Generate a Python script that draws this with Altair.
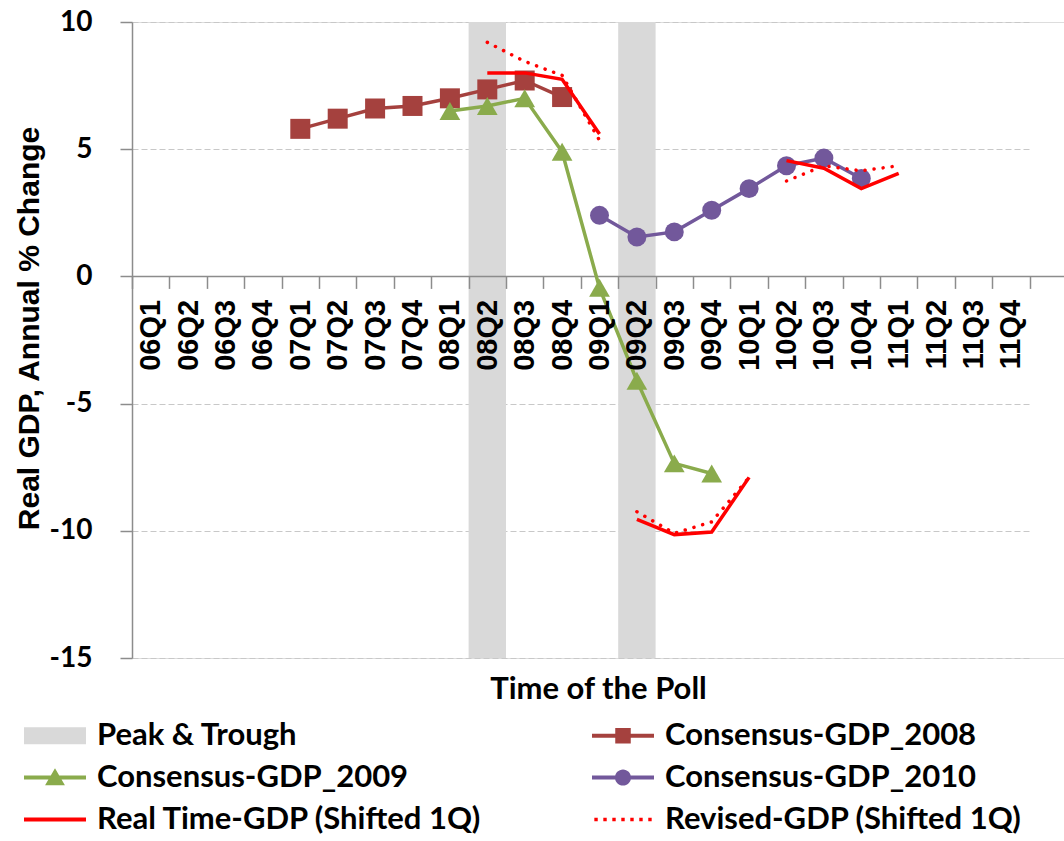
import altair as alt
import pandas as pd

# Quarter categories on the x axis (time of the poll)
quarters = ["06Q1", "06Q2", "06Q3", "06Q4", "07Q1", "07Q2", "07Q3", "07Q4",
            "08Q1", "08Q2", "08Q3", "08Q4", "09Q1", "09Q2", "09Q3", "09Q4",
            "10Q1", "10Q2", "10Q3", "10Q4", "11Q1", "11Q2", "11Q3", "11Q4"]

# Business-cycle peak and trough quarters
peak_trough = ["08Q2", "09Q2"]

# Consensus forecasts of annual real GDP growth, by forecast year
c2008_q = ["07Q1", "07Q2", "07Q3", "07Q4", "08Q1", "08Q2", "08Q3", "08Q4"]
c2008_v = [5.8, 6.2, 6.6, 6.7, 7.0, 7.35, 7.7, 7.05]

c2009_q = ["08Q1", "08Q2", "08Q3", "08Q4", "09Q1", "09Q2", "09Q3", "09Q4"]
c2009_v = [6.5, 6.7, 7.0, 4.9, -0.45, -4.1, -7.35, -7.75]

c2010_q = ["09Q1", "09Q2", "09Q3", "09Q4", "10Q1", "10Q2", "10Q3", "10Q4"]
c2010_v = [2.4, 1.55, 1.75, 2.6, 3.45, 4.35, 4.65, 3.85]

# Real-time and revised GDP (shifted one quarter), one segment per year
rt_2008_q = ["08Q2", "08Q3", "08Q4", "09Q1"]
rt_2008_v = [8.0, 8.0, 7.75, 5.6]
rt_2009_q = ["09Q2", "09Q3", "09Q4", "10Q1"]
rt_2009_v = [-9.55, -10.15, -10.05, -7.9]
rt_2010_q = ["10Q2", "10Q3", "10Q4", "11Q1"]
rt_2010_v = [4.55, 4.25, 3.45, 4.05]

rev_2008_q = ["08Q2", "08Q3", "08Q4", "09Q1"]
rev_2008_v = [9.2, 8.45, 7.9, 5.35]
rev_2009_q = ["09Q2", "09Q3", "09Q4", "10Q1"]
rev_2009_v = [-9.25, -10.1, -9.65, -7.9]
rev_2010_q = ["10Q2", "10Q3", "10Q4", "11Q1"]
rev_2010_v = [3.75, 4.35, 4.15, 4.35]

# Legend entries; the legend fills column by column (3 rows x 2 columns)
series_names = ["Peak & Trough", "Consensus-GDP_2009", "Real Time-GDP (Shifted 1Q)",
                "Consensus-GDP_2008", "Consensus-GDP_2010",
                "Revised-GDP (Shifted 1Q)"]

GREY_BAND = "#d9d9d9"
C2008 = "#a5413e"
C2009 = "#8aab4c"
C2010 = "#72589b"
RED = "#ff0000"
AXIS_GREY = "#8c8c8c"

W, H = 932, 636
BAND_SPAN = 897.6
Y_MIN, Y_MAX = -15, 10
zero_from_bottom = H * (0 - Y_MIN) / (Y_MAX - Y_MIN)


def frame(qs, vs, seg):
    return pd.DataFrame({"quarter": qs, "value": vs, "segment": seg})


x_scale = alt.Scale(type="band", domain=quarters, range=[0, BAND_SPAN],
                    paddingInner=0, paddingOuter=0)
y_scale = alt.Scale(domain=[Y_MIN, Y_MAX], nice=False, zero=False)

x_axis = alt.Axis(
    title="Time of the Poll", offset=-zero_from_bottom, domain=False, grid=False,
    tickBand="extent", tickSize=12, tickColor=AXIS_GREY, tickWidth=1.5,
    labelAngle=270, labelFont="Liberation Sans", labelFontWeight="bold",
    labelFontSize=29, labelColor="black", labelPadding=11, labelOverlap=False,
    titleFont="Lato", titleFontSize=31, titleFontWeight="bold", titleColor="black",
    titleX=W / 2, titleY=zero_from_bottom + 40, titleBaseline="alphabetic",
    titleAlign="center",
)
y_axis = alt.Axis(
    values=[-15, -10, -5, 0, 5, 10], title="Real GDP, Annual % Change",
    labelExpr="'' + datum.value",
    grid=True, gridDash=[6, 3], gridColor="#c8c8c8", gridWidth=1,
    domainColor=AXIS_GREY, domainWidth=1.5, tickColor=AXIS_GREY, tickSize=12,
    tickWidth=1.5, labelFont="Lato", labelFontSize=28, labelFontWeight="bold",
    labelColor="black", labelPadding=28, titleFont="Liberation Sans",
    titleFontSize=30, titleFontWeight="bold", titleColor="black",
    titleX=-88, titleY=306, titleAngle=270, titleAlign="center",
)


def xenc():
    return alt.X("quarter:N", scale=x_scale, axis=x_axis, sort=quarters)


def yenc(field="value"):
    return alt.Y(f"{field}:Q", scale=y_scale, axis=y_axis)


# Shaded peak / trough quarters
bands_df = pd.DataFrame({"quarter": peak_trough, "lo": [Y_MIN] * 2, "hi": [Y_MAX] * 2})
bands = alt.Chart(bands_df).mark_rect(color=GREY_BAND).encode(
    x=xenc(), y=yenc("hi"), y2="lo:Q")

# Zero line spanning the whole plot
zero = alt.Chart(pd.DataFrame({"v": [0]})).mark_rule(
    color=AXIS_GREY, strokeWidth=1.5).encode(
    y=yenc("v"), x=alt.value(0), x2=alt.value("width"))


def consensus(qs, vs, color, shape, size):
    df = frame(qs, vs, "a")
    line = alt.Chart(df).mark_line(color=color, strokeWidth=3.5).encode(
        x=xenc(), y=yenc())
    pts = alt.Chart(df).mark_point(filled=True, color=color, shape=shape,
                                   size=size, opacity=1, strokeWidth=0).encode(
        x=xenc(), y=yenc())
    return line + pts


rt_df = pd.concat([frame(rt_2008_q, rt_2008_v, "2008"),
                   frame(rt_2009_q, rt_2009_v, "2009"),
                   frame(rt_2010_q, rt_2010_v, "2010")])
rev_df = pd.concat([frame(rev_2008_q, rev_2008_v, "2008"),
                    frame(rev_2009_q, rev_2009_v, "2009"),
                    frame(rev_2010_q, rev_2010_v, "2010")])

real_time = alt.Chart(rt_df).mark_line(color=RED, strokeWidth=3.5).encode(
    x=xenc(), y=yenc(), detail="segment:N")
revised = alt.Chart(rev_df).mark_line(
    color=RED, strokeWidth=3.5, strokeDash=[0.1, 9], strokeCap="round").encode(
    x=xenc(), y=yenc(), detail="segment:N")


# Legend swatches as symbol paths; one unit is half the symbol size (15.5 px),
# the swatches run two units either side of centre
def rect(x0, y0, x1, y1):
    return f"M{x0},{y0}H{x1}V{y1}H{x0}Z"


line_bar = rect(-2, -0.13, 2, 0.13)
sq = 0.5
square_path = line_bar + " " + rect(-sq, -sq, sq, sq)
triangle_path = line_bar + " M0,-0.6L0.64,0.5H-0.64Z"
circle_path = line_bar + " M-0.52,0A0.52,0.52 0 1,1 0.52,0A0.52,0.52 0 1,1 -0.52,0Z"
band_path = rect(-2, -0.55, 2, 0.55)
dots = " ".join(rect(round(c - 0.11, 3), -0.11, round(c + 0.11, 3), 0.11)
                for c in [-1.74, -1.16, -0.58, 0.0, 0.58, 1.16, 1.74])
swatch = {
    "Peak & Trough": (band_path, GREY_BAND),
    "Consensus-GDP_2008": (square_path, C2008),
    "Consensus-GDP_2009": (triangle_path, C2009),
    "Consensus-GDP_2010": (circle_path, C2010),
    "Real Time-GDP (Shifted 1Q)": (line_bar, RED),
    "Revised-GDP (Shifted 1Q)": (dots, RED),
}
legend_paths = [swatch[n][0] for n in series_names]
legend_colors = [swatch[n][1] for n in series_names]

legend_spec = alt.Legend(
    title=None, orient="none", legendX=-92.5, legendY=698, columns=2,
    columnPadding=109, rowPadding=10, labelFont="Lato", labelFontSize=31,
    labelFontWeight="bold", labelColor="black", labelLimit=800, labelOffset=26.5,
    symbolSize=961, symbolStrokeWidth=0, symbolOpacity=1,
)
legend_layer = alt.Chart(pd.DataFrame({"series": series_names, "v": [0] * 6})).mark_point(
    filled=True, opacity=1).encode(
    y=yenc("v"),
    color=alt.Color("series:N", scale=alt.Scale(domain=series_names, range=legend_colors),
                    legend=legend_spec, sort=series_names),
    shape=alt.Shape("series:N", scale=alt.Scale(domain=series_names, range=legend_paths),
                    legend=legend_spec, sort=series_names),
).transform_filter("false")

chart = alt.layer(
    bands,
    zero,
    consensus(c2008_q, c2008_v, C2008, "square", 400),
    consensus(c2009_q, c2009_v, C2009, "triangle-up", 430),
    consensus(c2010_q, c2010_v, C2010, "circle", 360),
    real_time,
    revised,
    legend_layer,
).properties(
    width=W, height=H,
    autosize=alt.AutoSizeParams(type="none"),
    padding={"left": 132, "top": 22, "right": 0, "bottom": 183},
).configure_view(stroke=None).configure(background="white")

chart.save("out.html", embed_options={"renderer": "svg", "actions": False})
